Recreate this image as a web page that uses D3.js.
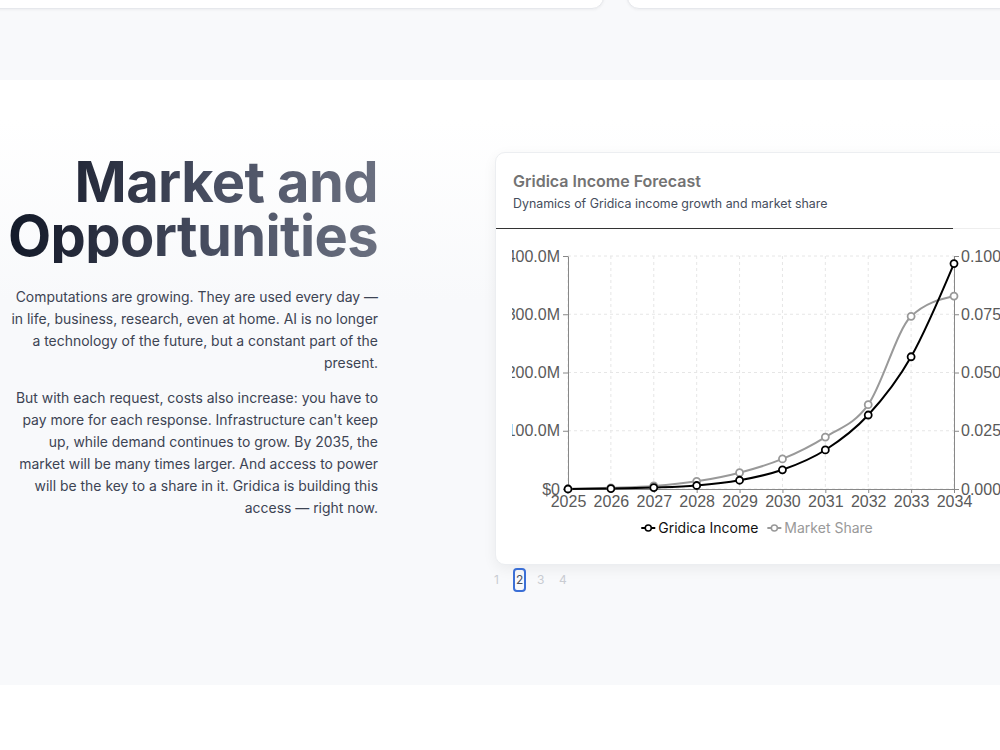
<!DOCTYPE html>
<html>
<head>
<meta charset="utf-8">
<script src="https://cdn.jsdelivr.net/npm/d3@7"></script>
<style>
  html, body { margin:0; padding:0; }
  body { width:1000px; height:750px; overflow:hidden; position:relative; background:#fff; font-family:Inter, "Noto Sans", sans-serif; }
  .topband { position:absolute; left:0; top:0; width:1000px; height:80px; background:#f8f9fb; }
  .topcard { position:absolute; top:-40px; height:47px; background:#fff; border:1px solid #e6e8ec; border-radius:12px; box-shadow:0 1px 3px rgba(0,0,0,0.05); }
  .section { position:absolute; left:0; top:80px; width:1000px; height:605px; background:linear-gradient(to bottom, #ffffff 0px, #ffffff 40px, #f8f9fb 220px, #f8f9fb 100%); }
  .title { position:absolute; left:0; top:155px; width:378px; text-align:right; font-family:Inter, sans-serif; font-weight:700; font-size:56px; line-height:54px; letter-spacing:-0.6px;
    background:linear-gradient(to right, #111827 0px, #1f2434 60px, #4a5063 220px, #6b7080 378px); -webkit-background-clip:text; background-clip:text; color:transparent; }
  .para { position:absolute; left:0; width:378px; text-align:right; font-family:Inter, sans-serif; font-size:13.95px; line-height:21.9px; color:#3d4454; }
  .card { position:absolute; left:495px; top:152px; width:560px; height:411px; background:#fff; border:1px solid #eceef1; border-radius:10px; box-shadow:0 4px 14px rgba(0,0,0,0.06); overflow:hidden; }
  .ctitle { position:absolute; left:17px; top:18px; font-family:Inter, sans-serif; font-weight:600; font-size:16px; color:#737373; }
  .csub { position:absolute; left:17px; top:43px; font-family:Inter, sans-serif; font-size:12.4px; color:#454d5c; }
  .sep1 { position:absolute; left:0; top:75px; width:457px; height:1px; background:#333; }
  .sep2 { position:absolute; left:457px; top:75px; width:120px; height:1px; background:#eee; }
  #chart { position:absolute; left:512px; top:230px; }
  .pager { position:absolute; top:570px; font-family:Inter, sans-serif; font-size:12px; color:#c9ccd2; line-height:20px; }
  .pager.active { color:#4a4f5c; border:2px solid #3b6fd6; border-radius:4px; padding:0 1px; top:568px; }
</style>
</head>
<body>
<div class="topband"></div>
<div class="topcard" style="left:-20px; width:622px;"></div>
<div class="topcard" style="left:627px; width:420px;"></div>
<div class="section"></div>

<div class="title">Market and<br>Opportunities</div>
<div class="para" style="top:286px;">Computations are growing. They are used every day —<br>in life, business, research, even at home. AI is no longer<br>a technology of the future, but a constant part of the<br>present.</div>
<div class="para" style="top:387px;">But with each request, costs also increase: you have to<br>pay more for each response. Infrastructure can't keep<br>up, while demand continues to grow. By 2035, the<br>market will be many times larger. And access to power<br>will be the key to a share in it. Gridica is building this<br>access — right now.</div>

<div class="card">
  <div class="ctitle">Gridica Income Forecast</div>
  <div class="csub">Dynamics of Gridica income growth and market share</div>
  <div class="sep1"></div>
  <div class="sep2"></div>
</div>
<svg id="chart" width="488" height="320"></svg>

<div class="pager" style="left:494px;">1</div>
<div class="pager active" style="left:513px;">2</div>
<div class="pager" style="left:537px;">3</div>
<div class="pager" style="left:559px;">4</div>

<script>
const years = ["2025","2026","2027","2028","2029","2030","2031","2032","2033","2034"];
const incomeValues = [0, 0.8e6, 2.5e6, 6e6, 15e6, 33e6, 67e6, 127e6, 227e6, 387e6];
const shareValues = [0, 0.0005, 0.0013, 0.0033, 0.007, 0.0129, 0.0223, 0.0362, 0.0741, 0.0828];
const incomeTicks = [0, 100e6, 200e6, 300e6, 400e6];
const shareTicks = [0, 0.025, 0.05, 0.075, 0.1];
const seriesNames = ["Gridica Income", "Market Share"];
const seriesColors = ["#000000", "#999999"];

const svg = d3.select("#chart");
const x0 = 56, x1 = 442, yTop = 26, yBot = 259;

const x = d3.scalePoint().domain(years).range([x0, x1]);
const yL = d3.scaleLinear().domain([0, 400e6]).range([yBot, yTop]);
const yR = d3.scaleLinear().domain([0, 0.1]).range([yBot, yTop]);

const axisFont = "Liberation Sans, Arial, sans-serif";

// grid
const grid = svg.append("g");
grid.selectAll("line.v").data(years).join("line")
  .attr("x1", d => x(d)).attr("x2", d => x(d)).attr("y1", yTop).attr("y2", yBot)
  .attr("stroke", "#e6e6e6").attr("stroke-dasharray", "3,3");
grid.selectAll("line.h").data(incomeTicks).join("line")
  .attr("x1", x0).attr("x2", x1).attr("y1", d => yL(d)).attr("y2", d => yL(d))
  .attr("stroke", "#e6e6e6").attr("stroke-dasharray", "3,3");

function styleAxis(g) {
  g.select(".domain").attr("stroke", "#888");
  g.selectAll(".tick line").attr("stroke", "#888");
  g.selectAll("text").attr("fill", "#5a5a5a").style("font-family", axisFont).style("font-size", "16px");
}

const fmtL = d => d === 0 ? "$0" : "$" + (d / 1e6).toFixed(1) + "M";
svg.append("g").attr("transform", `translate(${x0},0)`)
  .call(d3.axisLeft(yL).tickValues(incomeTicks).tickFormat(fmtL).tickSize(5).tickPadding(3).tickSizeOuter(0))
  .call(styleAxis);
svg.append("g").attr("transform", `translate(${x1},0)`)
  .call(d3.axisRight(yR).tickValues(shareTicks).tickFormat(d3.format(".4f")).tickSize(5).tickPadding(2).tickSizeOuter(0))
  .call(styleAxis);
svg.append("g").attr("transform", `translate(0,${yBot})`)
  .call(d3.axisBottom(x).tickSize(4).tickPadding(3).tickSizeOuter(0))
  .call(styleAxis);

// lines
const lineShare = d3.line().x((d, i) => x(years[i])).y(d => yR(d)).curve(d3.curveMonotoneX);
const lineIncome = d3.line().x((d, i) => x(years[i])).y(d => yL(d)).curve(d3.curveMonotoneX);

svg.append("path").datum(shareValues).attr("d", lineShare)
  .attr("fill", "none").attr("stroke", seriesColors[1]).attr("stroke-width", 2);
svg.append("path").datum(incomeValues).attr("d", lineIncome)
  .attr("fill", "none").attr("stroke", seriesColors[0]).attr("stroke-width", 2);

svg.append("g").selectAll("circle").data(shareValues).join("circle")
  .attr("cx", (d, i) => x(years[i])).attr("cy", d => yR(d)).attr("r", 3.5)
  .attr("fill", "#fff").attr("stroke", seriesColors[1]).attr("stroke-width", 1.8);
svg.append("g").selectAll("circle").data(incomeValues).join("circle")
  .attr("cx", (d, i) => x(years[i])).attr("cy", d => yL(d)).attr("r", 3.5)
  .attr("fill", "#fff").attr("stroke", seriesColors[0]).attr("stroke-width", 1.8);

// legend
const legend = svg.append("g").attr("transform", "translate(0,298)");
const items = legend.selectAll("g").data(seriesNames).join("g");
items.append("line").attr("x1", 0).attr("x2", 14).attr("y1", 0).attr("y2", 0)
  .attr("stroke", (d, i) => seriesColors[i]).attr("stroke-width", 2);
items.append("circle").attr("cx", 7).attr("cy", 0).attr("r", 3)
  .attr("fill", "#fff").attr("stroke", (d, i) => seriesColors[i]).attr("stroke-width", 1.5);
items.append("text").attr("x", 17).attr("dy", "0.35em").text(d => d)
  .attr("fill", (d, i) => i === 0 ? "#111" : "#999")
  .style("font-family", "Inter, sans-serif").style("font-size", "14px");
let widths = [];
items.each(function() { widths.push(this.getBBox().width); });
const gap = 9;
const total = widths[0] + widths[1] + gap;
let start = 245 - total / 2;
items.attr("transform", (d, i) => `translate(${i === 0 ? start : start + widths[0] + gap},0)`);
</script>
</body>
</html>
